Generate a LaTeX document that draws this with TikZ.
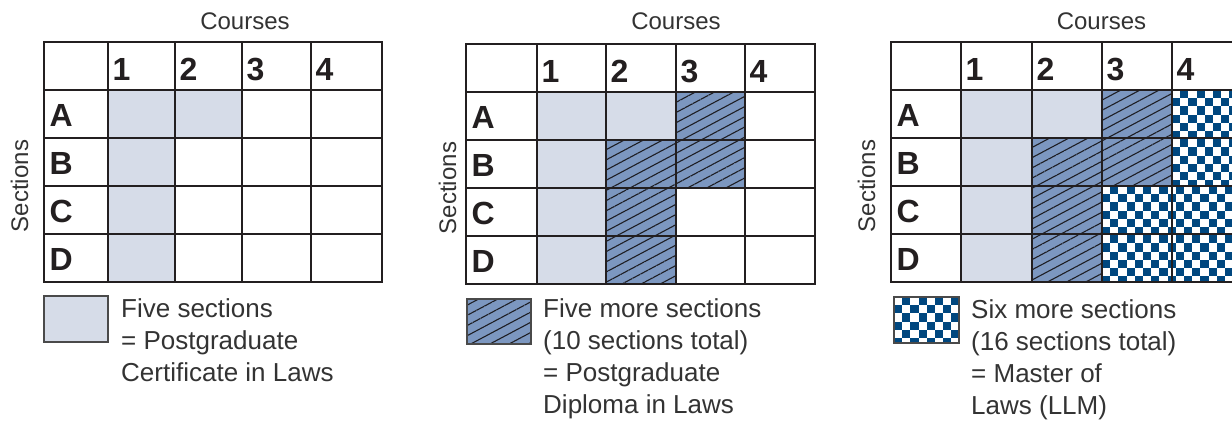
\documentclass[tikz,border=0pt]{standalone}
\usepackage{fontspec}
\setmainfont{Liberation Sans}
\usetikzlibrary{patterns.meta}

\definecolor{gridline}{HTML}{231F20}
\definecolor{certfill}{HTML}{D6DCE8}
\definecolor{diplfill}{HTML}{7C97C0}
\definecolor{hatchline}{HTML}{1E1E24}
\definecolor{llmblue}{HTML}{00477F}
\definecolor{bodytext}{HTML}{333333}
\definecolor{keyborder}{HTML}{4A4A4A}

% blue/white checkerboard inside a rectangle (x1,y1)-(x2,y2)
\newcommand\checkerrect[4]{%
  \begin{scope}
    \clip (#1,#2) rectangle (#3,#4);
    \fill[white] (#1,#2) rectangle (#3,#4);
    \foreach \ci in {0,...,17}{%
      \foreach \cj in {0,...,12}{%
        \pgfmathtruncatemacro\ckodd{mod(\ci+\cj,2)}%
        \ifnum\ckodd=1
          \fill[llmblue] ({#1+\ci*8.2},{#2+\cj*8.2}) rectangle +(8.2,8.2);
        \fi
      }%
    }%
  \end{scope}}

\tikzset{
  cert/.style={fill=certfill},
  dipl/.style={fill=diplfill, postaction={pattern={Lines[angle=28,distance=9pt,line width=1.1pt]}, pattern color=hatchline}},
  gridrule/.style={draw=gridline, line width=2.8pt, line cap=rect},
  gridframe/.style={draw=gridline, line width=2.8pt, line join=miter},
  headlabel/.style={anchor=base west, inner sep=0pt, text=gridline, font=\bfseries\fontsize{32}{32}\selectfont},
  axislabel/.style={anchor=base, inner sep=0pt, text=bodytext, font=\fontsize{24}{24}\selectfont},
  keytext/.style={anchor=base west, inner sep=0pt, text=bodytext, font=\fontsize{26}{32}\selectfont},
  keybox/.style={draw=keyborder, line width=1.6pt},
}

% table lines, column/row headings and axis title of one grid
% #1 name prefix; #2..#7 column edges; #8 top edge; #9 row height
\newcommand\coursegrid[9]{%
  \pgfmathsetmacro\ya{#8}\pgfmathsetmacro\yb{#8+#9}%
  \pgfmathsetmacro\yf{#8+5*#9}%
  \foreach \xx in {#3,#4,#5,#6}{%
    \draw[gridrule] (\xx,\ya) -- (\xx,\yf);
  }%
  \foreach \k in {1,...,4}{%
    \pgfmathsetmacro\yy{#8+\k*#9}%
    \draw[gridrule] (#2,\yy) -- (#7,\yy);
  }%
  \draw[gridframe] (#2,\ya) rectangle (#7,\yf);
  \foreach \xx/\lab in {#3/1,#4/2,#5/3,#6/4}{%
    \node[headlabel] (#1c\lab) at ({\xx+4.5},{\yb-10}) {\lab};
  }%
  \foreach \k/\lab in {2/A,3/B,4/C,5/D}{%
    \pgfmathsetmacro\yy{#8+\k*#9-12}%
    \node[headlabel] (#1r\lab) at ({#2+5.5},\yy) {\lab};
  }%
  \node[axislabel] (#1courses) at ({(#3+#7)/2},29) {Courses};
}

\begin{document}
\begin{tikzpicture}[x=1pt,y=-1pt]
\useasboundingbox (0,0) rectangle (1232,421);
\clip (0,0) rectangle (1232,421);

% ---------- grid 1: certificate ----------
\fill[cert] (108,90) rectangle (175,282);
\fill[cert] (175,90) rectangle (242,138);
\coursegrid{ga}{44}{108}{175}{242}{311}{382}{42}{48}
\node[axislabel, rotate=90] (gasections) at (28,186) {Sections};

\draw[keybox, cert] (44,296) rectangle (108,342);
\node[keytext] (gak1) at (121,317) {Five sections};
\node[keytext] (gak2) at (121,349) {= Postgraduate};
\node[keytext] (gak3) at (121,381) {Certificate in Laws};

% ---------- grid 2: diploma ----------
\fill[cert] (537,92) rectangle (606,284);
\fill[cert] (606,92) rectangle (676,140);
\path[dipl] (676,92) rectangle (745,140);
\path[dipl] (606,140) rectangle (745,188);
\path[dipl] (606,188) rectangle (676,284);
\coursegrid{gb}{466}{537}{606}{676}{745}{815}{44}{48}
\node[axislabel, rotate=90] (gbsections) at (456,188) {Sections};

\path[dipl] (467,299) rectangle (531,344);
\draw[keybox] (467,299) rectangle (531,344);
\node[keytext] (gbk1) at (543,317) {Five more sections};
\node[keytext] (gbk2) at (543,349) {(10 sections total)};
\node[keytext] (gbk3) at (543,381) {= Postgraduate};
\node[keytext] (gbk4) at (543,413) {Diploma in Laws};

% ---------- grid 3: master ----------
\fill[cert] (961,90) rectangle (1032,282);
\fill[cert] (1032,90) rectangle (1102,138);
\path[dipl] (1102,90) rectangle (1172,138);
\path[dipl] (1032,138) rectangle (1172,186);
\path[dipl] (1032,186) rectangle (1102,282);
\checkerrect{1172}{90}{1242}{186}
\checkerrect{1102}{186}{1242}{282}
\coursegrid{gc}{891}{961}{1032}{1102}{1172}{1242}{42}{48}
\node[axislabel, rotate=90] (gcsections) at (875,186) {Sections};

\checkerrect{894}{297}{959}{343}
\draw[keybox] (894,297) rectangle (959,343);
\node[keytext] (gck1) at (971,318) {Six more sections};
\node[keytext] (gck2) at (971,350) {(16 sections total)};
\node[keytext] (gck3) at (971,382) {= Master of};
\node[keytext] (gck4) at (971,414) {Laws (LLM)};
\end{tikzpicture}
\end{document}
